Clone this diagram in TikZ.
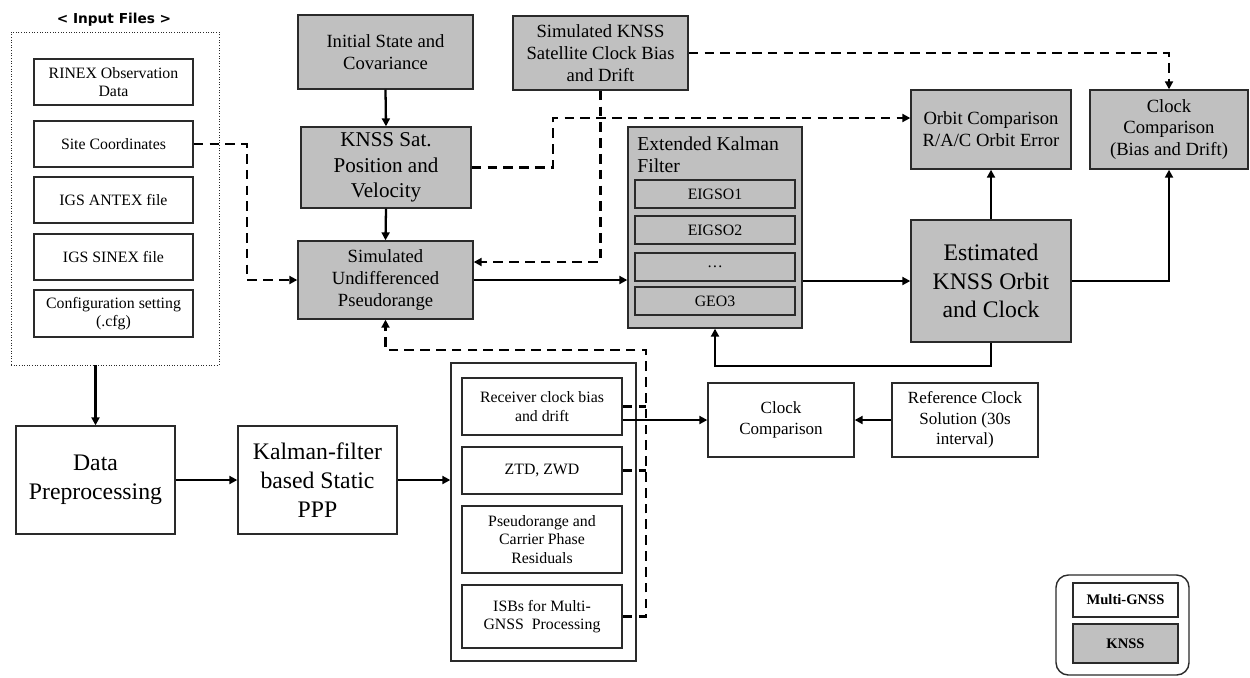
\documentclass[tikz,border=0pt]{standalone}
\usepackage{fontspec}
\setmainfont{Liberation Serif}
\newfontfamily\titlefont{DejaVu Sans}
\usepackage{xcolor}
\usetikzlibrary{arrows.meta}

\definecolor{knssgray}{HTML}{C0C0C0}
\definecolor{linegray}{HTML}{2A2A2A}

\tikzset{
  box/.style={draw=linegray, line width=0.8pt, align=center, inner sep=1pt, text=black},
  gbox/.style={box, fill=knssgray},
  flow/.style={line width=1.3pt, -{Triangle[length=4.5pt,width=4.5pt]}},
  dline/.style={line width=1.3pt, dash pattern=on 5.5pt off 3.5pt},
  dflow/.style={dline, -{Triangle[length=4.5pt,width=4.5pt]}},
  f9/.style={font=\fontsize{9}{10.6}\selectfont},
  f97/.style={font=\fontsize{9.7}{11.6}\selectfont},
  f105/.style={font=\fontsize{10.6}{12.4}\selectfont},
  f11/.style={font=\fontsize{11.2}{12.6}\selectfont},
  f12/.style={font=\fontsize{12}{14.6}\selectfont},
  f135/.style={font=\fontsize{13.5}{16.4}\selectfont},
  f83/.style={font=\fontsize{8.3}{10}\selectfont\bfseries},
}

\begin{document}
\begin{tikzpicture}[x=0.02cm,y=-0.02cm]

    \useasboundingbox (0,0) rectangle (1250,677);
          % one unit is one pixel of the reference, y runs downwards

    % input files
    \node[draw=linegray, densely dotted, line width=0.5pt, minimum width=4.16cm, minimum height=6.66cm] (inputs) at (115,198.5) {};
    \node[font=\titlefont\bfseries\fontsize{7.8}{9}\selectfont] (inputtitle) at (114,20) {< Input Files >};
    \foreach \n/\y/\hgt/\txt in {rinex/82/0.92/{RINEX Observation\\Data},
        site/144/0.92/{Site Coordinates}, antex/200/0.92/{IGS ANTEX file},
        sinex/257/0.92/{IGS SINEX file}, cfg/313.5/0.94/{Configuration setting\\(.cfg)}}{%
      \node[box, f9, minimum width=3.18cm, minimum height=\hgt cm] (\n) at (113.5,\y) {\txt};
    }

    % KNSS simulation
    \node[gbox, f105, minimum width=3.5cm, minimum height=1.48cm] (init) at (385.5,52) {Initial State and\\Covariance};
    \node[gbox, f12, minimum width=3.4cm, minimum height=1.62cm] (sat) at (386,167.5) {KNSS Sat.\\Position and\\Velocity};
    \node[gbox, f105, minimum width=3.5cm, minimum height=1.56cm] (sim) at (385.5,280) {Simulated\\Undifferenced\\Pseudorange};
    \node[gbox, f105, minimum width=3.5cm, minimum height=1.48cm] (simclk) at (600.5,53) {Simulated KNSS\\Satellite Clock Bias\\and Drift};

    % filter and results
    \node[gbox, minimum width=3.48cm, minimum height=4.02cm] (ekf) at (715,227.5) {};
    \node[f11, align=left, anchor=north west, inner sep=0pt] (ekftitle) at (637,136) {Extended Kalman\\Filter};
    \foreach \n/\y/\txt in {eigso1/194/EIGSO1, eigso2/230/EIGSO2, more/267/\dots, geo3/301/GEO3}{%
      \node[gbox, f9, minimum width=3.2cm, minimum height=0.56cm] (\n) at (715,\y) {\txt};
    }
    \node[gbox, f105, minimum width=3.2cm, minimum height=1.58cm] (orbit) at (991,129.5) {Orbit Comparison\\R/A/C Orbit Error};
    \node[gbox, f135, minimum width=3.2cm, minimum height=2.44cm] (est) at (991,281) {Estimated\\KNSS Orbit\\and Clock};
    \node[gbox, f105, minimum width=3.16cm, minimum height=1.58cm] (clkcmp) at (1169,129.5) {Clock\\Comparison\\(Bias and Drift)};

    % multi-GNSS processing
    \node[box, f135, minimum width=3.18cm, minimum height=2.16cm] (prep) at (95.5,480) {Data\\Preprocessing};
    \node[box, f135, minimum width=3.18cm, minimum height=2.16cm] (ppp) at (317.5,480) {Kalman-filter\\based Static\\PPP};
    \node[box, minimum width=3.7cm, minimum height=5.96cm] (outs) at (543.5,512) {};
    \foreach \n/\y/\hgt/\txt in {rcv/406.5/1.14/{Receiver clock bias\\and drift}, ztd/470.5/0.94/{ZTD, ZWD},
        res/539.5/1.34/{Pseudorange and\\Carrier Phase\\Residuals}, isb/616.5/1.26/{ISBs for Multi-\\GNSS\ \ Processing}}{%
      \node[box, f9, minimum width=3.2cm, minimum height=\hgt cm] (\n) at (542,\y) {\txt};
    }
    \node[box, f97, minimum width=2.92cm, minimum height=1.48cm] (cmp) at (781,420) {Clock\\Comparison};
    \node[box, f97, minimum width=2.92cm, minimum height=1.48cm] (ref) at (965,420) {Reference Clock\\Solution (30s\\interval)};

    % legend
    \node[draw=linegray, line width=0.8pt, rounded corners=7pt, minimum width=2.66cm, minimum height=2cm] (legend) at (1122.5,625) {};
    \node[box, f83, minimum width=2.1cm, minimum height=0.68cm] (lmulti) at (1125.5,600) {Multi-GNSS};
    \node[gbox, f83, minimum width=2.1cm, minimum height=0.78cm] (lknss) at (1125.5,643.5) {KNSS};

    % connectors
    \coordinate (j1) at (247,144);
    \coordinate (j2) at (553,118);
    \coordinate (j3) at (600.5,262);
    \coordinate (j4) at (646,350);

    \draw[dflow] (site.east) -- (j1) |- (sim.west);
    \draw[flow] (init.south) -- (sat.north);
    \draw[flow] (sat.south) -- (sim.north);
    \draw[dflow] (sat.east) -| (j2) -- (j2 -| orbit.west);
    \draw[dflow] (simclk.south) -- (j3) -- (j3 -| sim.east);
    \draw[dflow] (simclk.east) -| (clkcmp.north);
    \draw[flow] (sim.east) -- (sim.east -| ekf.west);
    \draw[flow] (est.west -| ekf.east) -- (est.west);
    \draw[flow] (est.north) -- (orbit.south);
    \draw[flow] (est.east) -| (clkcmp.south);
    \draw[flow] (est.south) -- ++(0,23) -| (ekf.south);
          % feedback into the filter

    \draw[flow] (inputs.south -| prep.north) -- (prep.north);
    \draw[flow] (prep) -- (ppp);
    \draw[flow] (ppp.east) -- (ppp.east -| outs.west);
    \draw[dline] (rcv.east) -- (rcv.east -| j4);
    \draw[dline] (ztd.east) -- (ztd.east -| j4);
    \draw[dflow] (isb.east) -| (j4) -| (sim.south);
    \draw[flow] (cmp.west -| rcv.east) -- (cmp.west);
    \draw[flow] (ref.west) -- (cmp.east);

\end{tikzpicture}
\end{document}
